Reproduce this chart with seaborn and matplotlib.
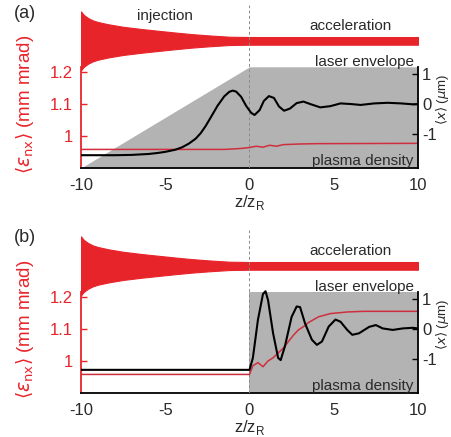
import numpy as np
import pandas as pd
import matplotlib
matplotlib.use("Agg")
import matplotlib.pyplot as plt
import seaborn as sns

# ---------------- data ----------------
# laser envelope (same in both panels), in left-axis units
env_z = [-10, -9.85, -9.6, -9.3, -9.0, -8.4, -7.5, -6.4, -5.5, -4.4, -3.4, -2.4, -1.2, 0, 10]
env_half = [0.092, 0.082, 0.072, 0.064, 0.059, 0.052, 0.044, 0.037, 0.032, 0.026, 0.021, 0.017, 0.013, 0.012, 0.012]
env_center = 1.297

# plasma density profiles (normalised 0..1)
dens_a_z = [-10, 0, 10]
dens_a = [0, 1, 1]
dens_b_z = [-10, 0, 0, 10]
dens_b = [0, 0, 1, 1]

# panel (a) centroid (right axis) and emittance (left axis)
cen_a_z = [-10, -8, -7, -6, -5.5, -5, -4.4, -4.0, -3.6, -3.2, -2.9, -2.6, -2.3, -1.9, -1.5,
           -1.2, -1.0, -0.8, -0.5, -0.2, 0.1, 0.3, 0.6, 0.85, 1.15, 1.45, 1.75, 2.05, 2.4,
           2.8, 3.2, 3.6, 4.2, 4.8, 5.4, 6.0, 6.6, 7.4, 8.2, 9.0, 9.7, 10]
cen_a = [-1.68, -1.68, -1.67, -1.64, -1.61, -1.57, -1.5, -1.42, -1.3, -1.14, -0.96, -0.72,
         -0.44, -0.06, 0.25, 0.4, 0.44, 0.41, 0.24, -0.06, -0.29, -0.36, -0.2, 0.1, 0.26,
         0.2, -0.08, -0.22, -0.15, 0.03, 0.08, 0.0, -0.11, -0.07, 0.02, 0.0, -0.03, 0.02,
         0.04, 0.02, -0.01, 0.0]
emit_a_z = [-10, -1.5, -0.5, 0, 0.4, 0.8, 1.2, 1.6, 2.0, 2.5, 3.0, 4.0, 10]
emit_a = [0.958, 0.958, 0.961, 0.964, 0.968, 0.965, 0.971, 0.968, 0.973, 0.974, 0.975, 0.976, 0.977]

# panel (b)
cen_b_z = [-10, 0, 0.2, 0.5, 0.8, 0.95, 1.1, 1.4, 1.7, 1.85, 2.1, 2.5, 2.8, 3.0, 3.3, 3.7,
           4.0, 4.3, 4.7, 5.1, 5.4, 5.8, 6.1, 6.5, 7.1, 7.5, 7.9, 8.5, 9.1, 9.7, 10]
cen_b = [-1.34, -1.34, -0.95, 0.3, 1.15, 1.24, 0.95, -0.14, -0.95, -1.02, -0.57, 0.4, 0.74,
         0.72, 0.18, -0.35, -0.52, -0.41, 0.08, 0.31, 0.24, -0.03, -0.19, -0.14, 0.07, 0.13,
         0.02, -0.03, 0.02, 0.04, 0.02]
emit_b_z = [-10, 0, 0.2, 0.5, 0.8, 1.1, 1.4, 1.7, 2.0, 2.3, 2.6, 2.9, 3.2, 3.5, 4.1, 4.8,
            5.8, 6.75, 7.75, 10]
emit_b = [0.958, 0.958, 0.985, 0.995, 0.982, 1.0, 1.01, 1.025, 1.04, 1.06, 1.08, 1.097,
          1.107, 1.12, 1.138, 1.148, 1.153, 1.155, 1.155, 1.155]

xticks = [-10, -5, 0, 5, 10]
left_ticks = [1, 1.1, 1.2]
left_ticklabels = ["1", "1.1", "1.2"]
right_ticks = [-1, 0, 1]
right_ticklabels = ["-1", "0", "1"]

# ---------------- style ----------------
sns.set_theme(style="white")
plt.rcParams['font.family'] = ['Liberation Sans', 'DejaVu Sans']
plt.rcParams['axes.unicode_minus'] = False
plt.rcParams['mathtext.fontset'] = 'dejavusans'

RED = "#e8242b"
LINE_RED = "#cf2f3d"
GRAY = "#b3b3b4"
TXT = "#2a2a2a"

LEFT_LIM = (0.9, 1.409)
RIGHT_LIM = (-2.1, 3.25)
GRAY_TOP = 1.216
RIGHT_TOP = 1.21

fig = plt.figure(figsize=(4.52, 4.37), dpi=100)


def panel(pos, tag, dens_z, dens, emit_z, emit, cen_z, cen, tag_y, show_injection):
    ax = fig.add_axes(pos)
    ax.set_xlim(-10, 10)
    ax.set_ylim(*LEFT_LIM)
    # plasma density (gray)
    dz = np.array(dens_z, float)
    dv = LEFT_LIM[0] + np.array(dens, float) * (GRAY_TOP - LEFT_LIM[0])
    ax.fill_between(dz, LEFT_LIM[0], dv, color=GRAY, lw=0, zorder=1)
    # laser envelope
    ez = np.array(env_z, float)
    eh = np.array(env_half, float)
    ax.fill_between(ez, env_center - eh, env_center + eh, color=RED, lw=0.8,
                    edgecolor=RED, zorder=2)
    # dashed line at focus
    ax.axvline(0, color="#8a8a8a", lw=0.7, ls=(0, (3, 2.5)), zorder=3)
    # emittance
    sns.lineplot(x=emit_z, y=emit, ax=ax, color=LINE_RED, lw=1.1, estimator=None,
                 sort=False, zorder=4)
    # texts
    if show_injection:
        ax.text(-5.0, 1.376, "injection", ha="center", va="center",
                fontsize=11, color=TXT, zorder=5)
    ax.text(6.0, 1.343, "acceleration", ha="center", va="center", fontsize=11,
            color=TXT, zorder=5)
    ax.text(9.75, 1.232, "laser envelope", ha="right", va="center", fontsize=11,
            color=TXT, zorder=5)
    ax.text(9.75, 0.922, "plasma density", ha="right", va="center", fontsize=11,
            color=TXT, zorder=5)
    # axes styling
    for s in ("top", "right"):
        ax.spines[s].set_visible(False)
    ax.spines["left"].set_color(RED)
    ax.spines["left"].set_linewidth(1.3)
    ax.spines["left"].set_bounds(LEFT_LIM[0], GRAY_TOP)
    ax.spines["bottom"].set_color("black")
    ax.spines["bottom"].set_linewidth(1.3)
    ax.set_xticks(xticks)
    ax.set_xticklabels([str(t) for t in xticks])
    ax.set_yticks(left_ticks)
    ax.set_yticklabels(left_ticklabels)
    ax.tick_params(axis="x", direction="in", length=4, width=1, colors="black",
                   labelcolor=TXT, labelsize=12, pad=7)
    ax.tick_params(axis="y", direction="in", length=4, width=1, colors=RED,
                   labelcolor=RED, labelsize=12, pad=6)
    ax.set_xlabel(r"z/z$_\mathregular{R}$", fontsize=12, color=TXT)
    ax.set_ylabel(r"$\langle\epsilon_{\rm nx}\rangle$ (mm mrad)", fontsize=13.5, color=RED)
    ax.yaxis.set_label_coords(-0.135, 0.39)
    ax.xaxis.set_label_coords(0.5, -0.155)

    ax2 = ax.twinx()
    ax2.set_ylim(*RIGHT_LIM)
    sns.lineplot(x=cen_z, y=cen, ax=ax2, color="black", lw=1.5, estimator=None,
                 sort=False, zorder=6)
    for s in ("top", "left", "bottom"):
        ax2.spines[s].set_visible(False)
    ax2.spines["right"].set_color("black")
    ax2.spines["right"].set_linewidth(1.3)
    ax2.spines["right"].set_bounds(RIGHT_LIM[0], RIGHT_TOP)
    ax2.set_yticks(right_ticks)
    ax2.set_yticklabels(right_ticklabels)
    ax2.tick_params(axis="y", direction="in", length=4, width=1, colors="black",
                    labelcolor=TXT, labelsize=12, pad=3)
    ax2.set_ylabel(r"$\langle x\rangle$ ($\mu$m)", fontsize=9.5, color=TXT)
    ax2.yaxis.set_label_coords(1.047, 0.42)
    ax2.grid(False)
    ax.grid(False)

    fig.text(14 / 452, tag_y, tag, fontsize=13, color=TXT, ha="left", va="center")
    return ax, ax2


panel([81 / 452, 1 - 168 / 437, 337 / 452, 163 / 437], "(a)",
      dens_a_z, dens_a, emit_a_z, emit_a, cen_a_z, cen_a, 1 - 14 / 437, True)
panel([81 / 452, 1 - 393 / 437, 337 / 452, 163 / 437], "(b)",
      dens_b_z, dens_b, emit_b_z, emit_b, cen_b_z, cen_b, 1 - 238 / 437, False)

fig.savefig("out.png", dpi=100)
